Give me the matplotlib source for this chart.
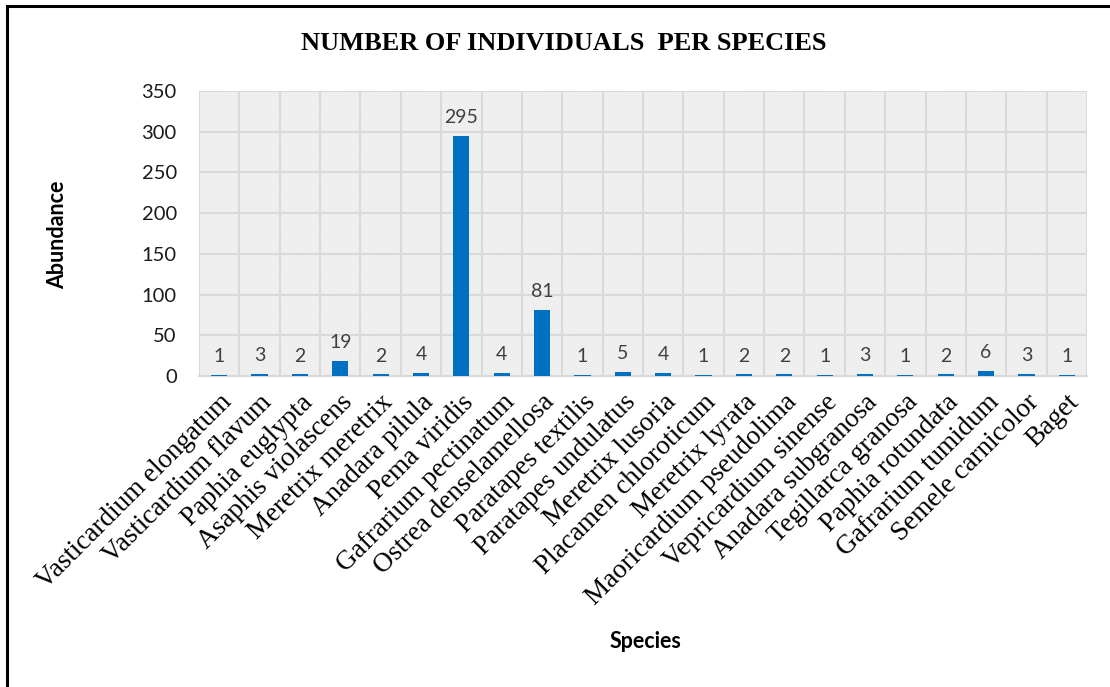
import matplotlib
matplotlib.use("Agg")
import matplotlib.pyplot as plt
from matplotlib.patches import Rectangle
import numpy as np

species = ["Vasticardium elongatum", "Vasticardium flavum", "Paphia euglypta",
           "Asaphis violascens", "Meretrix meretrix", "Anadara pilula",
           "Pema viridis", "Gafrarium pectinatum", "Ostrea denselamellosa",
           "Paratapes textilis", "Paratapes undulatus", "Meretrix lusoria",
           "Placamen chloroticum", "Meretrix lyrata", "Maoricardium pseudolima",
           "Vepricardium sinense", "Anadara subgranosa", "Tegillarca granosa",
           "Paphia rotundata", "Gafrarium tumidum", "Semele carnicolor", "Baget"]
abundance = [1, 3, 2, 19, 2, 4, 295, 4, 81, 1, 5, 4, 1, 2, 2, 1, 3, 1, 2, 6, 3, 1]
yticks = [0, 50, 100, 150, 200, 250, 300, 350]

plt.rcParams['hatch.linewidth'] = 0.5

fig = plt.figure(figsize=(11.1, 6.87), dpi=100)
ax = fig.add_axes([199/1110, 1-376/687, (1087-199)/1110, (376-91)/687])

x = np.arange(len(species))
ax.set_xlim(-0.5, len(species) - 0.5)
ax.set_ylim(0, 350)

bg = Rectangle((0, 0), 1, 1, transform=ax.transAxes, facecolor='#fbfbfb',
               edgecolor='#e2e2e2', hatch='\\' * 16, linewidth=0, zorder=0)
ax.add_patch(bg)

ax.bar(x, abundance, width=0.4, color='#0070C0', zorder=3)
for xi, v in zip(x, abundance):
    ax.annotate(str(v), (xi, v), xytext=(0, 7), textcoords='offset points',
                ha='center', va='bottom', fontsize=14, color='#404040',
                family='Lato', zorder=4)

ax.set_yticks(yticks)
ax.set_yticklabels([str(t) for t in yticks], family='Lato', fontsize=14.5, color='#1a1a1a')
ax.set_xticks(x)
ax.set_xticklabels(species, rotation=45, ha='right', va='top', rotation_mode='anchor',
                   family='Liberation Serif', fontsize=19.5, color='black')
ax.tick_params(axis='x', length=0, pad=10)
ax.tick_params(axis='y', length=0, pad=16)
ax.set_xticks(np.arange(-0.5, len(species), 1.0), minor=True)
ax.tick_params(axis='x', which='minor', length=0)
ax.grid(True, which='minor', axis='x', color='#d9d9d9', linewidth=1.5, zorder=1)
ax.grid(True, which='major', axis='y', color='#d9d9d9', linewidth=1.5, zorder=1)
ax.grid(False, which='major', axis='x')
ax.set_axisbelow(True)
for s in ['top', 'right', 'left']:
    ax.spines[s].set_visible(False)
ax.spines['bottom'].set_color('#d9d9d9')
ax.spines['bottom'].set_linewidth(1.5)

fig.text(564/1110, 1-44/687, "NUMBER OF INDIVIDUALS  PER SPECIES", ha='center', va='center',
         family='Liberation Serif', fontweight='bold', fontsize=19)
fig.text(58/1110, 1-235/687, "Abundance", rotation=90, ha='center', va='center',
         family='Lato', fontweight='bold', fontsize=15.5)
fig.text(645/1110, 1-642/687, "Species", ha='center', va='center',
         family='Lato', fontweight='bold', fontsize=15.5)

border = Rectangle((7/1110, -0.1), 1.2, 1 - 6/687 + 0.1, transform=fig.transFigure,
                   fill=False, edgecolor='black', linewidth=2.2)
fig.patches.append(border)

fig.savefig("out.png", dpi=100)
